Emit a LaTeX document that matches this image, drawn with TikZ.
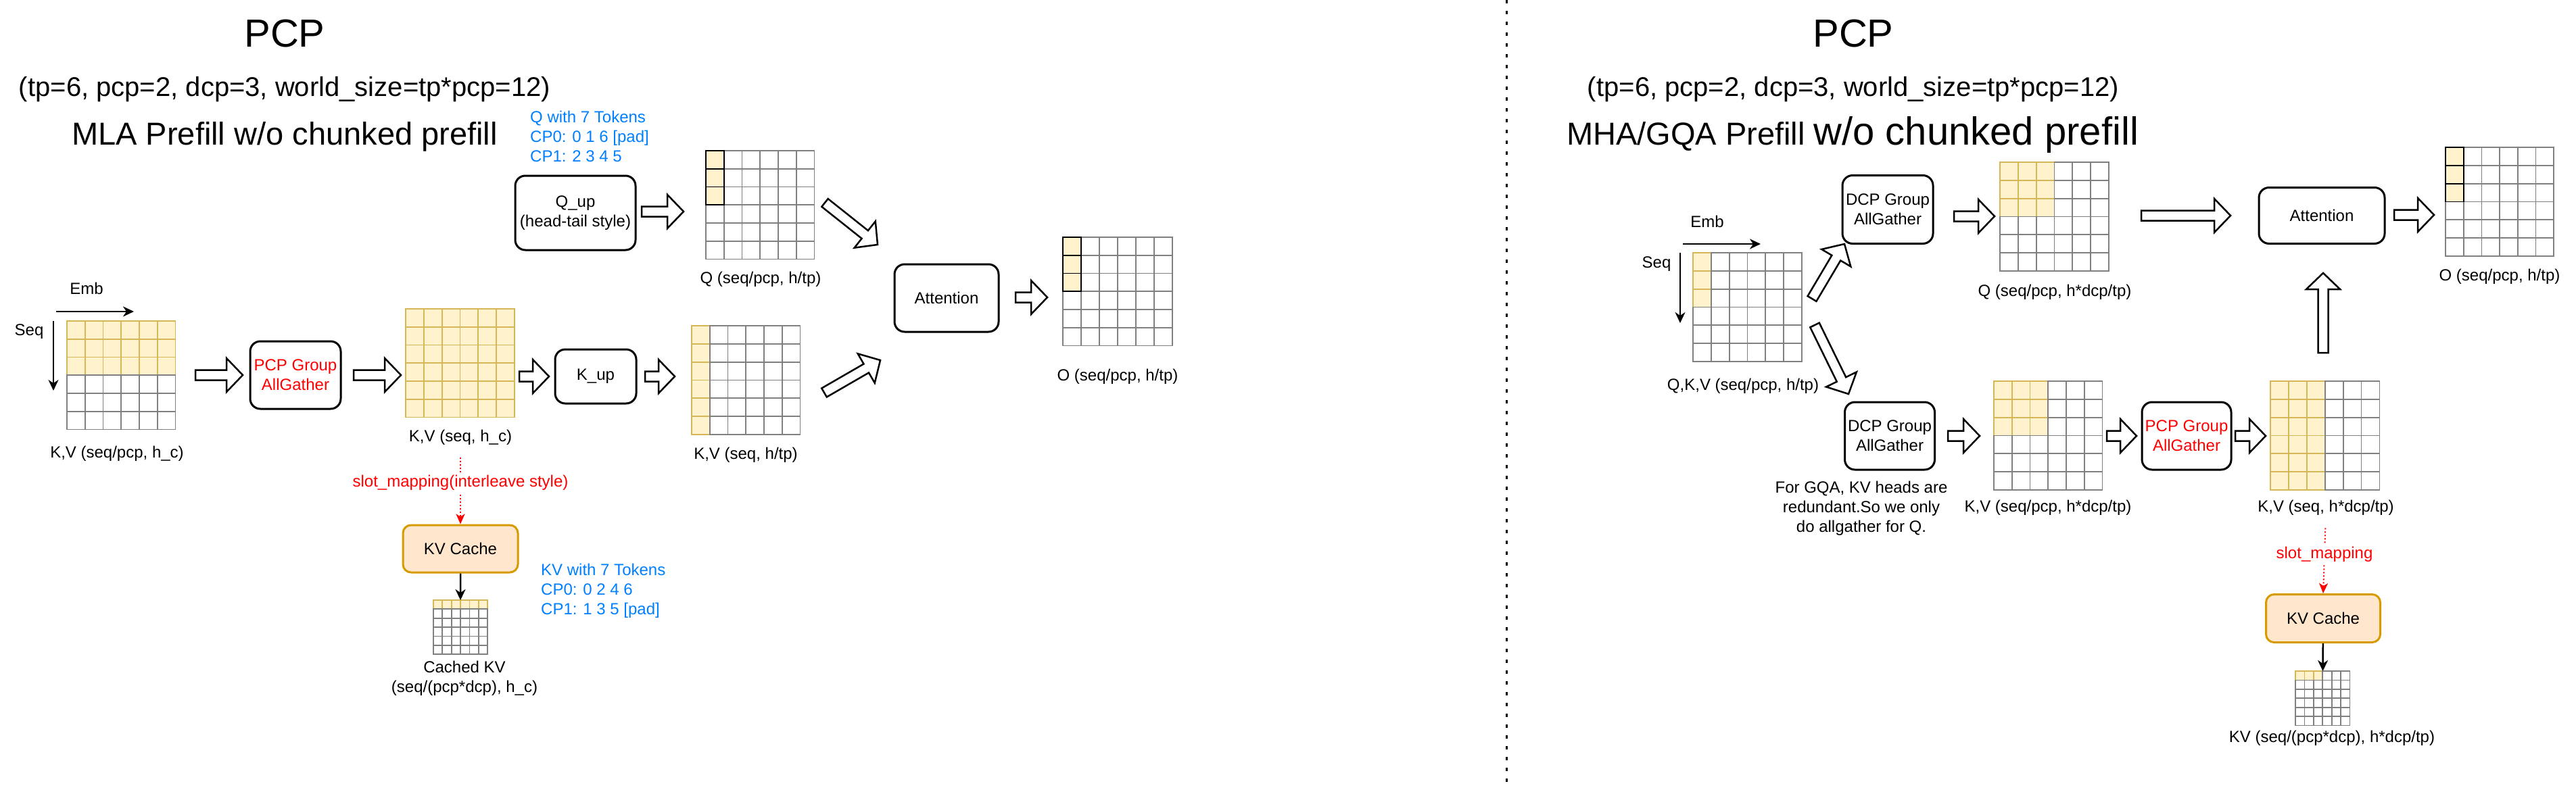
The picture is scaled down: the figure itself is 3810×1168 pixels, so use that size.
\documentclass[tikz,border=0pt]{standalone}
\usepackage{fontspec}
\setmainfont{Liberation Sans}
\usepackage{tikz}
\usetikzlibrary{arrows.meta}
\usetikzlibrary{positioning}
\usetikzlibrary{calc}

\definecolor{tokfill}{HTML}{FFF2CC}
\definecolor{tokline}{HTML}{D6B656}
\definecolor{gridline}{HTML}{808080}
\definecolor{cachefill}{HTML}{FFE6CC}
\definecolor{cacheline}{HTML}{D79B00}
\definecolor{cpblue}{HTML}{007FFF}
\definecolor{agred}{HTML}{FF0000}

% 6x6 token grid: name, x, y, cell w, cell h, filled cols, filled rows, fill style
\newcommand{\tokgrid}[8]{%
  \node[gridframe, minimum width={6*#4}, minimum height={6*#5}] (#1) at (#2,#3) {};
  \foreach \ci in {1,...,6}{\foreach \ri in {1,...,6}{%
    \pgfmathtruncatemacro{\isfill}{and(\ci<=#6,\ri<=#7)}%
    \ifnum\isfill=1 \draw[#8] ({#2+(\ci-1)*#4},{#3+(\ri-1)*#5}) rectangle ++(#4,#5);\fi}}
  \foreach \ci in {1,...,6}{\foreach \ri in {1,...,6}{%
    \pgfmathtruncatemacro{\isfill}{and(\ci<=#6,\ri<=#7)}%
    \ifnum\isfill=0 \draw[wcell] ({#2+(\ci-1)*#4},{#3+(\ri-1)*#5}) rectangle ++(#4,#5);\fi}}
  \foreach \ci in {1,...,6}{\foreach \ri in {1,...,6}{%
    \pgfmathtruncatemacro{\isfill}{and(\ci<=#6,\ri<=#7)}%
    \ifnum\isfill=1 \path[#8 top] ({#2+(\ci-1)*#4},{#3+(\ri-1)*#5}) rectangle ++(#4,#5);\fi}}
}

\begin{document}
\begin{tikzpicture}[x=1pt,y=-1pt]
\tikzstyle{txt}=[font=\fontsize{24}{29}\selectfont, inner sep=0pt, align=center]
\tikzstyle{box}=[txt, draw, line width=3pt, rounded corners=15pt]
\tikzstyle{cache}=[txt, draw=cacheline, fill=cachefill, line width=3pt, rounded corners=12pt]
\tikzstyle{gridframe}=[anchor=north west, inner sep=0pt, outer sep=0pt]
\tikzstyle{wcell}=[fill=white, draw=gridline, line width=1.8pt]
\tikzstyle{ycell}=[fill=tokfill, draw=tokline, line width=1.8pt]
\tikzstyle{ycell top}=[draw=none]
\tikzstyle{qcell}=[fill=tokfill, draw=black, line width=1.8pt]
\tikzstyle{qcell top}=[draw=black, line width=1.8pt]
\tikzstyle{fatarrow}=[draw=black, fill=white, line width=2.5pt, line join=miter]
\tikzstyle{dimarrow}=[line width=2.5pt, -{Stealth[length=16pt, width=15pt, inset=5pt]}]
\tikzstyle{slotline}=[draw=agred, line width=2pt, dash pattern=on 2pt off 3pt, shorten <=19pt, -{Stealth[length=15pt, width=13pt, inset=4pt]}]
\useasboundingbox (0,0) rectangle (3810,1168);

% ---------- left: MLA ----------
\node[font=\fontsize{58}{70}\selectfont, inner sep=0pt] (title1) at (421,50) {PCP};
\node[font=\fontsize{40}{48}\selectfont, inner sep=0pt] (params1) at (421,132) {(tp=6, pcp=2, dcp=3, world\_size=tp*pcp=12)};
\node[font=\fontsize{47}{56}\selectfont, inner sep=0pt] (head1) at (421,202) {MLA Prefill w/o chunked prefill};
\node[txt, text=cpblue, align=left, anchor=west] (qtok) at (784,202) {Q with 7 Tokens\\CP0: 0 1 6 [pad]\\CP1: 2 3 4 5};

\node[txt] (emb1) at (128,427) {Emb};
\node[txt] (seq1) at (43,491) {Seq};
\coordinate (emb1a) at (83,461);
\coordinate (emb1b) at (198,461);
\coordinate (seq1a) at (79,475);
\coordinate (seq1b) at (79,578);
\draw[dimarrow] (emb1a) -- (emb1b);
\draw[dimarrow] (seq1a) -- (seq1b);

\tokgrid{kvloc}{99}{475}{26.75}{26.75}{6}{3}{ycell}
\node[txt] (kvloclbl) at (173,671) {K,V (seq/pcp, h\_c)};
\node[box, text=agred, minimum width=134, minimum height=100] (pcpag1) at (437,555) {PCP Group\\AllGather};
\tokgrid{kvfull}{600}{457}{26.8}{26.75}{6}{6}{ycell}
\node[txt] (kvfulllbl) at (681,647) {K,V (seq, h\_c)};
\node[box, minimum width=120, minimum height=80] (kup) at (881,557) {K\_up};
\tokgrid{kvup}{1023}{482}{26.75}{26.8}{1}{6}{ycell}
\node[txt] (kvuplbl) at (1103,673) {K,V (seq, h/tp)};

\node[box, minimum width=178, minimum height=110] (qup) at (851,315) {Q\_up\\(head-tail style)};
\tokgrid{qloc}{1044}{223}{26.75}{26.75}{1}{3}{qcell}
\node[txt] (qloclbl) at (1125,413) {Q (seq/pcp, h/tp)};
\node[box, minimum width=154, minimum height=100] (attn1) at (1400,441) {Attention};
\tokgrid{oloc}{1572}{351}{27}{26.75}{1}{3}{qcell}
\node[txt] (oloclbl) at (1653,557) {O (seq/pcp, h/tp)};

\node[cache, minimum width=170, minimum height=70] (kvc1) at (681,812) {KV Cache};
\draw[slotline] (kvfulllbl.south) -- (kvc1.north) node[pos=0.48, txt, fill=white, text=agred, inner sep=3pt] {slot\_mapping(interleave style)};
\tokgrid{kvcgrid1}{641}{888}{13.35}{13.35}{6}{1}{ycell}
\draw[dimarrow] (kvc1) -- (kvcgrid1);
\node[txt] (kvc1lbl) at (687,1004) {Cached KV\\(seq/(pcp*dcp), h\_c)};
\node[txt, text=cpblue, align=left, anchor=west] (kvtok) at (800,874) {KV with 7 Tokens\\CP0: 0 2 4 6\\CP1: 1 3 5 [pad]};

% block arrows, left
\coordinate (la1) at (289,555);  \coordinate (lb1) at (359,555);
\coordinate (la2) at (523,555);  \coordinate (lb2) at (593,555);
\coordinate (la3) at (768,557);  \coordinate (lb3) at (812,557);
\coordinate (la4) at (954,557);  \coordinate (lb4) at (998,557);
\coordinate (la5) at (949,313);  \coordinate (lb5) at (1011,313);
\coordinate (la6) at (1220,300); \coordinate (lb6) at (1298,362);
\coordinate (la7) at (1219,581); \coordinate (lb7) at (1302,533);
\coordinate (la8) at (1502,440); \coordinate (lb8) at (1549,440);

% separator
\coordinate (septop) at (2228,0);
\coordinate (sepbot) at (2228,1168);
\draw[line width=3pt, dash pattern=on 5pt off 11pt] (septop) -- (sepbot);

% ---------- right: MHA/GQA ----------
\node[font=\fontsize{58}{70}\selectfont, inner sep=0pt] (title2) at (2741,50) {PCP};
\node[font=\fontsize{40}{48}\selectfont, inner sep=0pt] (params2) at (2741,132) {(tp=6, pcp=2, dcp=3, world\_size=tp*pcp=12)};
\node[inner sep=0pt] (head2) at (2740,199) {{\fontsize{47}{56}\selectfont MHA/GQA Prefill }{\fontsize{58}{70}\selectfont w/o chunked prefill}};

\node[txt] (emb2) at (2525,328) {Emb};
\node[txt] (seq2) at (2450,391) {Seq};
\coordinate (emb2a) at (2489,361);
\coordinate (emb2b) at (2604,361);
\coordinate (seq2a) at (2485,374);
\coordinate (seq2b) at (2485,478);
\draw[dimarrow] (emb2a) -- (emb2b);
\draw[dimarrow] (seq2a) -- (seq2b);

\tokgrid{qkv}{2504}{374}{26.8}{26.8}{1}{3}{ycell}
\node[txt] (qkvlbl) at (2578,571) {Q,K,V (seq/pcp, h/tp)};
\node[box, minimum width=134, minimum height=101] (dcpq) at (2792,310) {DCP Group\\AllGather};
\tokgrid{qdcp}{2958}{240}{26.8}{26.8}{3}{3}{ycell}
\node[txt] (qdcplbl) at (3039,432) {Q (seq/pcp, h*dcp/tp)};
\node[box, minimum width=186, minimum height=83] (attn2) at (3434,319) {Attention};
\tokgrid{oq}{3617}{218}{26.7}{26.8}{1}{3}{qcell}
\node[txt] (oqlbl) at (3697,409) {O (seq/pcp, h/tp)};

\node[box, minimum width=133, minimum height=100] (dcpkv) at (2795,645) {DCP Group\\AllGather};
\node[txt] (gqanote) at (2753,752) {For GQA, KV heads are\\redundant.So we only\\do allgather for Q.};
\tokgrid{kvdcp}{2949}{564}{26.75}{26.8}{3}{3}{ycell}
\node[txt] (kvdcplbl) at (3029,751) {K,V (seq/pcp, h*dcp/tp)};
\node[box, text=agred, minimum width=132, minimum height=100] (pcpag2) at (3234,645) {PCP Group\\AllGather};
\tokgrid{kvseq}{3358}{564}{26.9}{26.8}{3}{6}{ycell}
\node[txt] (kvseqlbl) at (3440,751) {K,V (seq, h*dcp/tp)};

\node[cache, minimum width=169, minimum height=71] (kvc2) at (3436,915) {KV Cache};
\draw[slotline] (kvseqlbl.south) -- (kvc2.north) node[pos=0.5, txt, fill=white, text=agred, inner sep=3pt] {slot\_mapping};
\tokgrid{kvcgrid2}{3395}{993}{13.4}{13.4}{3}{1}{ycell}
\draw[dimarrow] (kvc2) -- (kvcgrid2);
\node[txt] (kvc2lbl) at (3449,1092) {KV (seq/(pcp*dcp), h*dcp/tp)};

% block arrows, right
\coordinate (ra1) at (2680,442); \coordinate (rb1) at (2728,361);
\coordinate (ra2) at (2684,481); \coordinate (rb2) at (2734,583);
\coordinate (ra3) at (2890,320); \coordinate (rb3) at (2950,320);
\coordinate (ra4) at (3167,319); \coordinate (rb4) at (3299,319);
\coordinate (ra5) at (3541,318); \coordinate (rb5) at (3600,318);
\coordinate (ra6) at (3436,522); \coordinate (rb6) at (3436,404);
\coordinate (ra7) at (2881,645); \coordinate (rb7) at (2928,645);
\coordinate (ra8) at (3116,645); \coordinate (rb8) at (3160,645);
\coordinate (ra9) at (3306,645); \coordinate (rb9) at (3351,645);

\foreach \s/\t in {la1/lb1,la2/lb2,la3/lb3,la4/lb4,la5/lb5,la6/lb6,la7/lb7,la8/lb8,
                   ra1/rb1,ra2/rb2,ra3/rb3,ra4/rb4,ra5/rb5,ra6/rb6,ra7/rb7,ra8/rb8,ra9/rb9}{
  \coordinate (hb) at ($(\t)!24pt!(\s)$);
  \draw[fatarrow] ($(\s)!7.5pt!90:(\t)$) -- ($(hb)!7.5pt!-90:(\s)$) -- ($(hb)!25pt!-90:(\s)$) -- (\t)
    -- ($(hb)!25pt!90:(\s)$) -- ($(hb)!7.5pt!90:(\s)$) -- ($(\s)!7.5pt!-90:(\t)$) -- cycle;
}
\end{tikzpicture}
\end{document}
